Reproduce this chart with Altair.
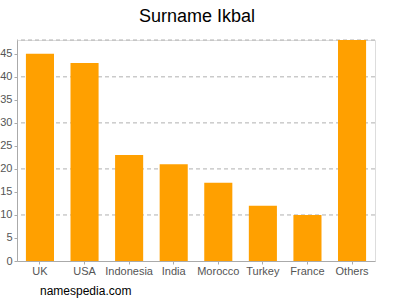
import altair as alt
import pandas as pd

countries = ["UK", "USA", "Indonesia", "India", "Morocco", "Turkey", "France", "Others"]
counts = [45, 43, 23, 21, 17, 12, 10, 48]
grid_values = [10, 20, 30, 40, 48]
y_ticks = [0, 5, 10, 15, 20, 25, 30, 35, 40, 45]

df = pd.DataFrame({"country": countries, "count": counts})
grid_df = pd.DataFrame({"v": grid_values})

W, H = 358, 221
FONT = "Liberation Sans"

y_scale = alt.Scale(domain=[0, 48], nice=False)
y_axis = alt.Axis(values=y_ticks, grid=False, labelFont=FONT, labelFontSize=11,
                  labelColor="#555555", domainColor="#aaaaaa", tickColor="#aaaaaa",
                  tickSize=3, labelPadding=2)

grid = alt.Chart(grid_df).mark_rule(color="#b0b0b0", strokeDash=[4, 3], strokeWidth=1).encode(
    y=alt.Y("v:Q", scale=y_scale, title=None, axis=y_axis)
)

bars = alt.Chart(df).mark_bar(color="#ffa000").encode(
    x=alt.X("country:N", sort=countries, title=None,
            scale=alt.Scale(paddingInner=0.37, paddingOuter=0.2),
            axis=alt.Axis(labelAngle=0, labelFont=FONT, labelFontSize=11, labelColor="#555555",
                          domainColor="#aaaaaa", tickColor="#aaaaaa", tickSize=3, labelPadding=1)),
    y=alt.Y("count:Q", scale=y_scale, title=None, axis=y_axis)
)

title = alt.Chart(pd.DataFrame({"t": ["Surname Ikbal"]})).mark_text(
    font=FONT, fontSize=18, color="#000000", align="center", baseline="middle"
).encode(text="t:N", x=alt.value(180), y=alt.value(-23))

wm = alt.Chart(pd.DataFrame({"t": ["namespedia.com"]})).mark_text(
    font=FONT, fontSize=12, color="#000000", align="left", baseline="middle"
).encode(text="t:N", x=alt.value(23), y=alt.value(251))

chart = alt.layer(grid, bars, title, wm).properties(
    width=W, height=H,
    autosize=alt.AutoSizeParams(type="none"),
    padding={"left": 17, "top": 40, "right": 25, "bottom": 39},
).configure_view(stroke=None).configure(background="white")

chart.save("out.html", embed_options={"renderer": "svg", "actions": False})
